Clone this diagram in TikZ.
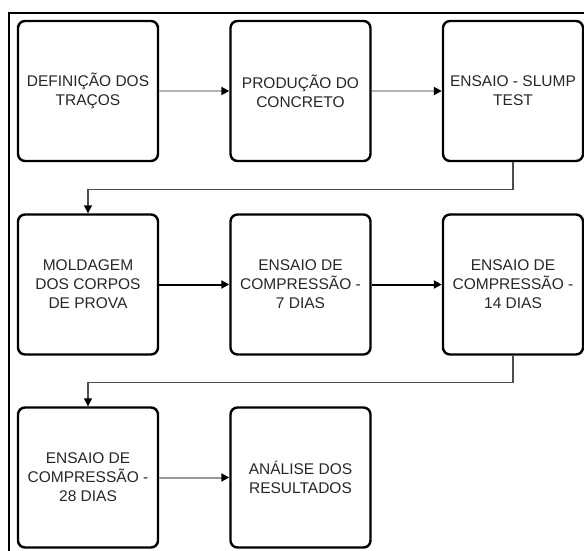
\documentclass[tikz,border=0pt]{standalone}
\usepackage{fontspec}
\setmainfont{Liberation Sans}
\usetikzlibrary{arrows.meta}
\begin{document}
\begin{tikzpicture}[x=1pt,y=-1pt,
  stepbox/.style={draw=black, line width=2.4pt, rounded corners=7pt, minimum width=140pt, minimum height=140pt, inner sep=0pt, align=center, text=black!85, font=\fontsize{15.5}{19}\selectfont},
  tipblack/.style={-{Triangle[length=8pt,width=8pt,color=black]}},
  flowlight/.style={draw=black!30, line width=2pt, tipblack},
  flowdark/.style={draw=black, line width=2pt, tipblack},
  flowmid/.style={draw=black!40, line width=2pt, tipblack},
  linkline/.style={draw=black!70, line width=1.5pt, tipblack},
  frameline/.style={draw=black, line width=1.5pt}]
\useasboundingbox (0,0) rectangle (584,551);
\coordinate (fA) at (9,551);
\coordinate (fB) at (9,13);
\coordinate (fC) at (584,13);
\draw[frameline] (fA) -- (fB) -- (fC);
\node[stepbox] (b1) at (88,91) {DEFINIÇÃO DOS\\TRAÇOS};
\node[stepbox] (b2) at (300.5,91) {PRODUÇÃO DO\\CONCRETO};
\node[stepbox] (b3) at (513,91) {ENSAIO - SLUMP\\TEST};
\node[stepbox] (b4) at (88,284.5) {MOLDAGEM\\DOS CORPOS\\DE PROVA};
\node[stepbox] (b5) at (300.5,284.5) {ENSAIO DE\\COMPRESSÃO -\\7 DIAS};
\node[stepbox] (b6) at (513,284.5) {ENSAIO DE\\COMPRESSÃO -\\14 DIAS};
\node[stepbox] (b7) at (88,477.5) {ENSAIO DE\\COMPRESSÃO -\\28 DIAS};
\node[stepbox] (b8) at (300.5,477.5) {ANÁLISE DOS\\RESULTADOS};
\draw[flowlight] (b1) -- (b2);
\draw[flowlight] (b2) -- (b3);
\draw[flowdark] (b4) -- (b5);
\draw[flowdark] (b5) -- (b6);
\draw[flowmid] (b7) -- (b8);
\draw[linkline] (b3.south) -- ++(0,27.5) -| (b4.north);
\draw[linkline] (b6.south) -- ++(0,27) -| (b7.north);
\end{tikzpicture}
\end{document}
